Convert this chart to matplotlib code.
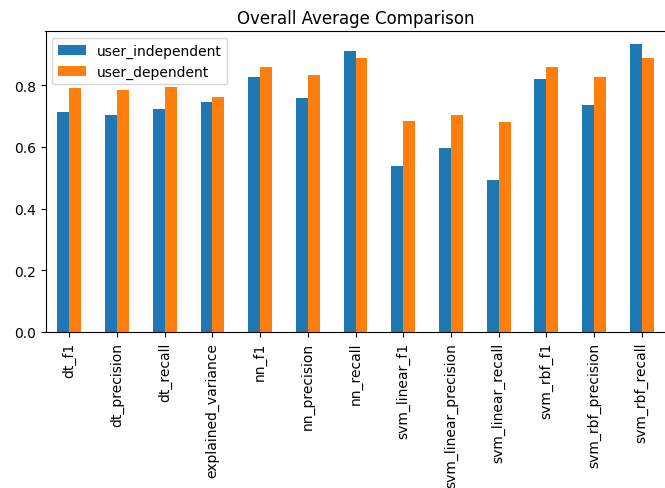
import matplotlib
matplotlib.use("Agg")
import matplotlib.pyplot as plt
import numpy as np

# metrics on the x axis
metrics = ["dt_f1", "dt_precision", "dt_recall", "explained_variance",
           "nn_f1", "nn_precision", "nn_recall",
           "svm_linear_f1", "svm_linear_precision", "svm_linear_recall",
           "svm_rbf_f1", "svm_rbf_precision", "svm_rbf_recall"]

user_independent = [0.712, 0.704, 0.721, 0.744, 0.825, 0.757, 0.910,
                    0.537, 0.595, 0.491, 0.820, 0.735, 0.934]
user_dependent = [0.789, 0.785, 0.795, 0.762, 0.860, 0.834, 0.888,
                  0.684, 0.704, 0.681, 0.857, 0.825, 0.888]

fig = plt.figure(figsize=(6.65, 4.89), dpi=100)
ax = fig.add_axes([45.5/665, 1 - 333/489, 620/665, 301/489])

x = np.arange(len(metrics))
w = 0.25
ax.bar(x - w/2, user_independent, w, color="#1f77b4", label="user_independent")
ax.bar(x + w/2, user_dependent, w, color="#ff7f0e", label="user_dependent")

ax.set_xticks(x)
ax.set_xticklabels(metrics, rotation=90)
ax.set_xlim(-0.5, len(metrics) - 0.5)
ax.set_ylim(0, 0.975)
ax.set_yticks([0.0, 0.2, 0.4, 0.6, 0.8])
ax.set_title("Overall Average Comparison")
ax.legend(loc="upper left")

plt.savefig("out.png", dpi=100)
